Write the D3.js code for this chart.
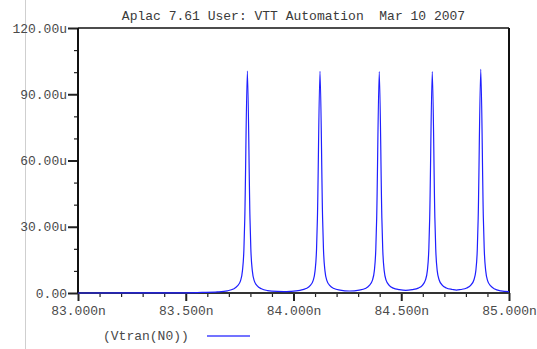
<!DOCTYPE html>
<html>
<head>
<meta charset="utf-8">
<script src="https://cdn.jsdelivr.net/npm/d3@7"></script>
<style>
  body { margin: 0; background: #fff; }
  text { font-family: "Liberation Mono", "DejaVu Sans Mono", monospace; }
</style>
</head>
<body>
<div id="chart"></div>
<script>
var svgWidth = 537;
var svgHeight = 349;

var margin = { top: 28, right: 28, left: 78, bottom: 56 };

var width = svgWidth - margin.left - margin.right;
var height = svgHeight - margin.top - margin.bottom;

// transient trace Vtran(N0), time in ns, value in u
var times = [
  83.000, 83.300, 83.500, 83.576, 83.647, 83.693, 83.721, 83.740, 83.754, 83.763, 83.770, 83.774,
  83.786,
  83.798, 83.802, 83.809, 83.818, 83.832, 83.851, 83.879, 83.925, 83.955,
  83.984, 84.030, 84.058, 84.077, 84.091, 84.100, 84.107, 84.111,
  84.123,
  84.135, 84.139, 84.146, 84.155, 84.169, 84.188, 84.216, 84.260,
  84.305, 84.333, 84.352, 84.366, 84.375, 84.382, 84.386,
  84.398,
  84.410, 84.414, 84.421, 84.430, 84.444, 84.463, 84.491, 84.521,
  84.551, 84.579, 84.598, 84.612, 84.621, 84.628, 84.632,
  84.644,
  84.656, 84.660, 84.667, 84.676, 84.690, 84.709, 84.737, 84.756,
  84.776, 84.804, 84.823, 84.837, 84.846, 84.853, 84.857,
  84.869,
  84.881, 84.885, 84.892, 84.901, 84.915, 84.934, 84.962, 85.000
];
var values = [
  0.0, 0.05, 0.1, 0.25, 0.5, 1.0, 1.8, 3.2, 5.5, 10, 20, 34,
  100.5,
  34, 20, 10, 5.5, 3.2, 1.9, 1.1, 0.7, 0.65,
  0.75, 1.2, 2.0, 3.3, 5.6, 10, 20, 34,
  100.4,
  34, 20, 10, 5.6, 3.3, 2.0, 1.3, 0.9,
  1.3, 2.0, 3.4, 5.7, 10, 20, 34,
  100.3,
  34, 20, 10, 5.7, 3.5, 2.2, 1.5, 1.15,
  1.5, 2.2, 3.5, 5.8, 10, 20, 34,
  100.3,
  34, 20, 10, 5.9, 3.6, 2.3, 1.6, 1.3,
  1.6, 2.3, 3.6, 5.9, 10, 20, 34,
  101.3,
  34, 20, 10, 5.5, 3.2, 1.8, 1.0, 0.6
];

var xTicks = [83.0, 83.5, 84.0, 84.5, 85.0];
var xMinorTicks = [83.1, 83.2, 83.3, 83.4, 83.6, 83.7, 83.8, 83.9, 84.1, 84.2, 84.3, 84.4, 84.6, 84.7, 84.8, 84.9];
var yTicks = [0, 30, 60, 90, 120];
var yMinorTicks = [10, 20, 40, 50, 70, 80, 100, 110];

var title = "Aplac 7.61 User: VTT Automation  Mar 10 2007";
var legendLabel = "(Vtran(N0))";

var svg = d3.select("#chart")
  .append("svg")
  .attr("width", svgWidth)
  .attr("height", svgHeight);

// light gray page rule on the left
svg.append("line")
  .attr("x1", 25.5).attr("x2", 25.5)
  .attr("y1", 0).attr("y2", svgHeight)
  .attr("stroke", "#cfcfcf")
  .attr("stroke-width", 1);

var chart = svg.append("g")
  .attr("transform", `translate(${margin.left}, ${margin.top})`);

var xScale = d3.scaleLinear().domain([83, 85]).range([0, width]);
var yScale = d3.scaleLinear().domain([0, 120]).range([height, 0]);

function styleAxis(g) {
  g.select(".domain").remove();
  g.selectAll(".tick line").attr("stroke", "#222").attr("stroke-width", 2);
  g.selectAll(".tick text")
    .attr("fill", "#4a4a4a")
    .attr("font-size", 13)
    .attr("font-family", "Liberation Mono, monospace");
}

// minor ticks
chart.append("g")
  .attr("transform", `translate(0, ${height})`)
  .call(d3.axisBottom(xScale).tickValues(xMinorTicks).tickSize(4).tickFormat(""))
  .call(styleAxis)
  .call(g => g.selectAll(".tick line").attr("stroke-width", 1.2));

chart.append("g")
  .call(d3.axisLeft(yScale).tickValues(yMinorTicks).tickSize(4).tickFormat(""))
  .call(styleAxis)
  .call(g => g.selectAll(".tick line").attr("stroke-width", 1.2));

// major ticks
chart.append("g")
  .attr("transform", `translate(0, ${height})`)
  .call(d3.axisBottom(xScale).tickValues(xTicks).tickSize(8).tickPadding(5)
    .tickFormat(d => d.toFixed(3) + "n"))
  .call(styleAxis);

chart.append("g")
  .call(d3.axisLeft(yScale).tickValues(yTicks).tickSize(10).tickPadding(1)
    .tickFormat(d => d === 0 ? "0.00" : d.toFixed(2) + "u"))
  .call(styleAxis);

// frame
chart.append("line")
  .attr("x1", 0).attr("x2", width).attr("y1", 0).attr("y2", 0)
  .attr("stroke", "#111").attr("stroke-width", 1.5);
chart.append("line")
  .attr("x1", width).attr("x2", width).attr("y1", 0).attr("y2", height)
  .attr("stroke", "#111").attr("stroke-width", 2);
chart.append("line")
  .attr("x1", 0).attr("x2", width).attr("y1", height).attr("y2", height)
  .attr("stroke", "#333").attr("stroke-width", 2);
chart.append("line")
  .attr("x1", 0).attr("x2", 0).attr("y1", 0).attr("y2", height)
  .attr("stroke", "#111").attr("stroke-width", 2);

// trace
var points = times.map((t, i) => [t, values[i]]);

var line = d3.line()
  .x(d => xScale(d[0]))
  .y(d => yScale(d[1]))
  .curve(d3.curveMonotoneX);

chart.append("path")
  .datum(points)
  .attr("fill", "none")
  .attr("stroke", "#1f1fff")
  .attr("stroke-width", 1.2)
  .attr("d", line);

// title
svg.append("text")
  .attr("x", margin.left + width / 2)
  .attr("y", 20)
  .attr("text-anchor", "middle")
  .attr("font-size", 13)
  .attr("fill", "#3a3a3a")
  .style("white-space", "pre")
  .text(title);

// legend
svg.append("text")
  .attr("x", 103)
  .attr("y", 340)
  .attr("font-size", 13)
  .attr("fill", "#4a4a4a")
  .text(legendLabel);

svg.append("line")
  .attr("x1", 207).attr("x2", 250)
  .attr("y1", 336).attr("y2", 336)
  .attr("stroke", "#7373ff")
  .attr("stroke-width", 2);
</script>
</body>
</html>
